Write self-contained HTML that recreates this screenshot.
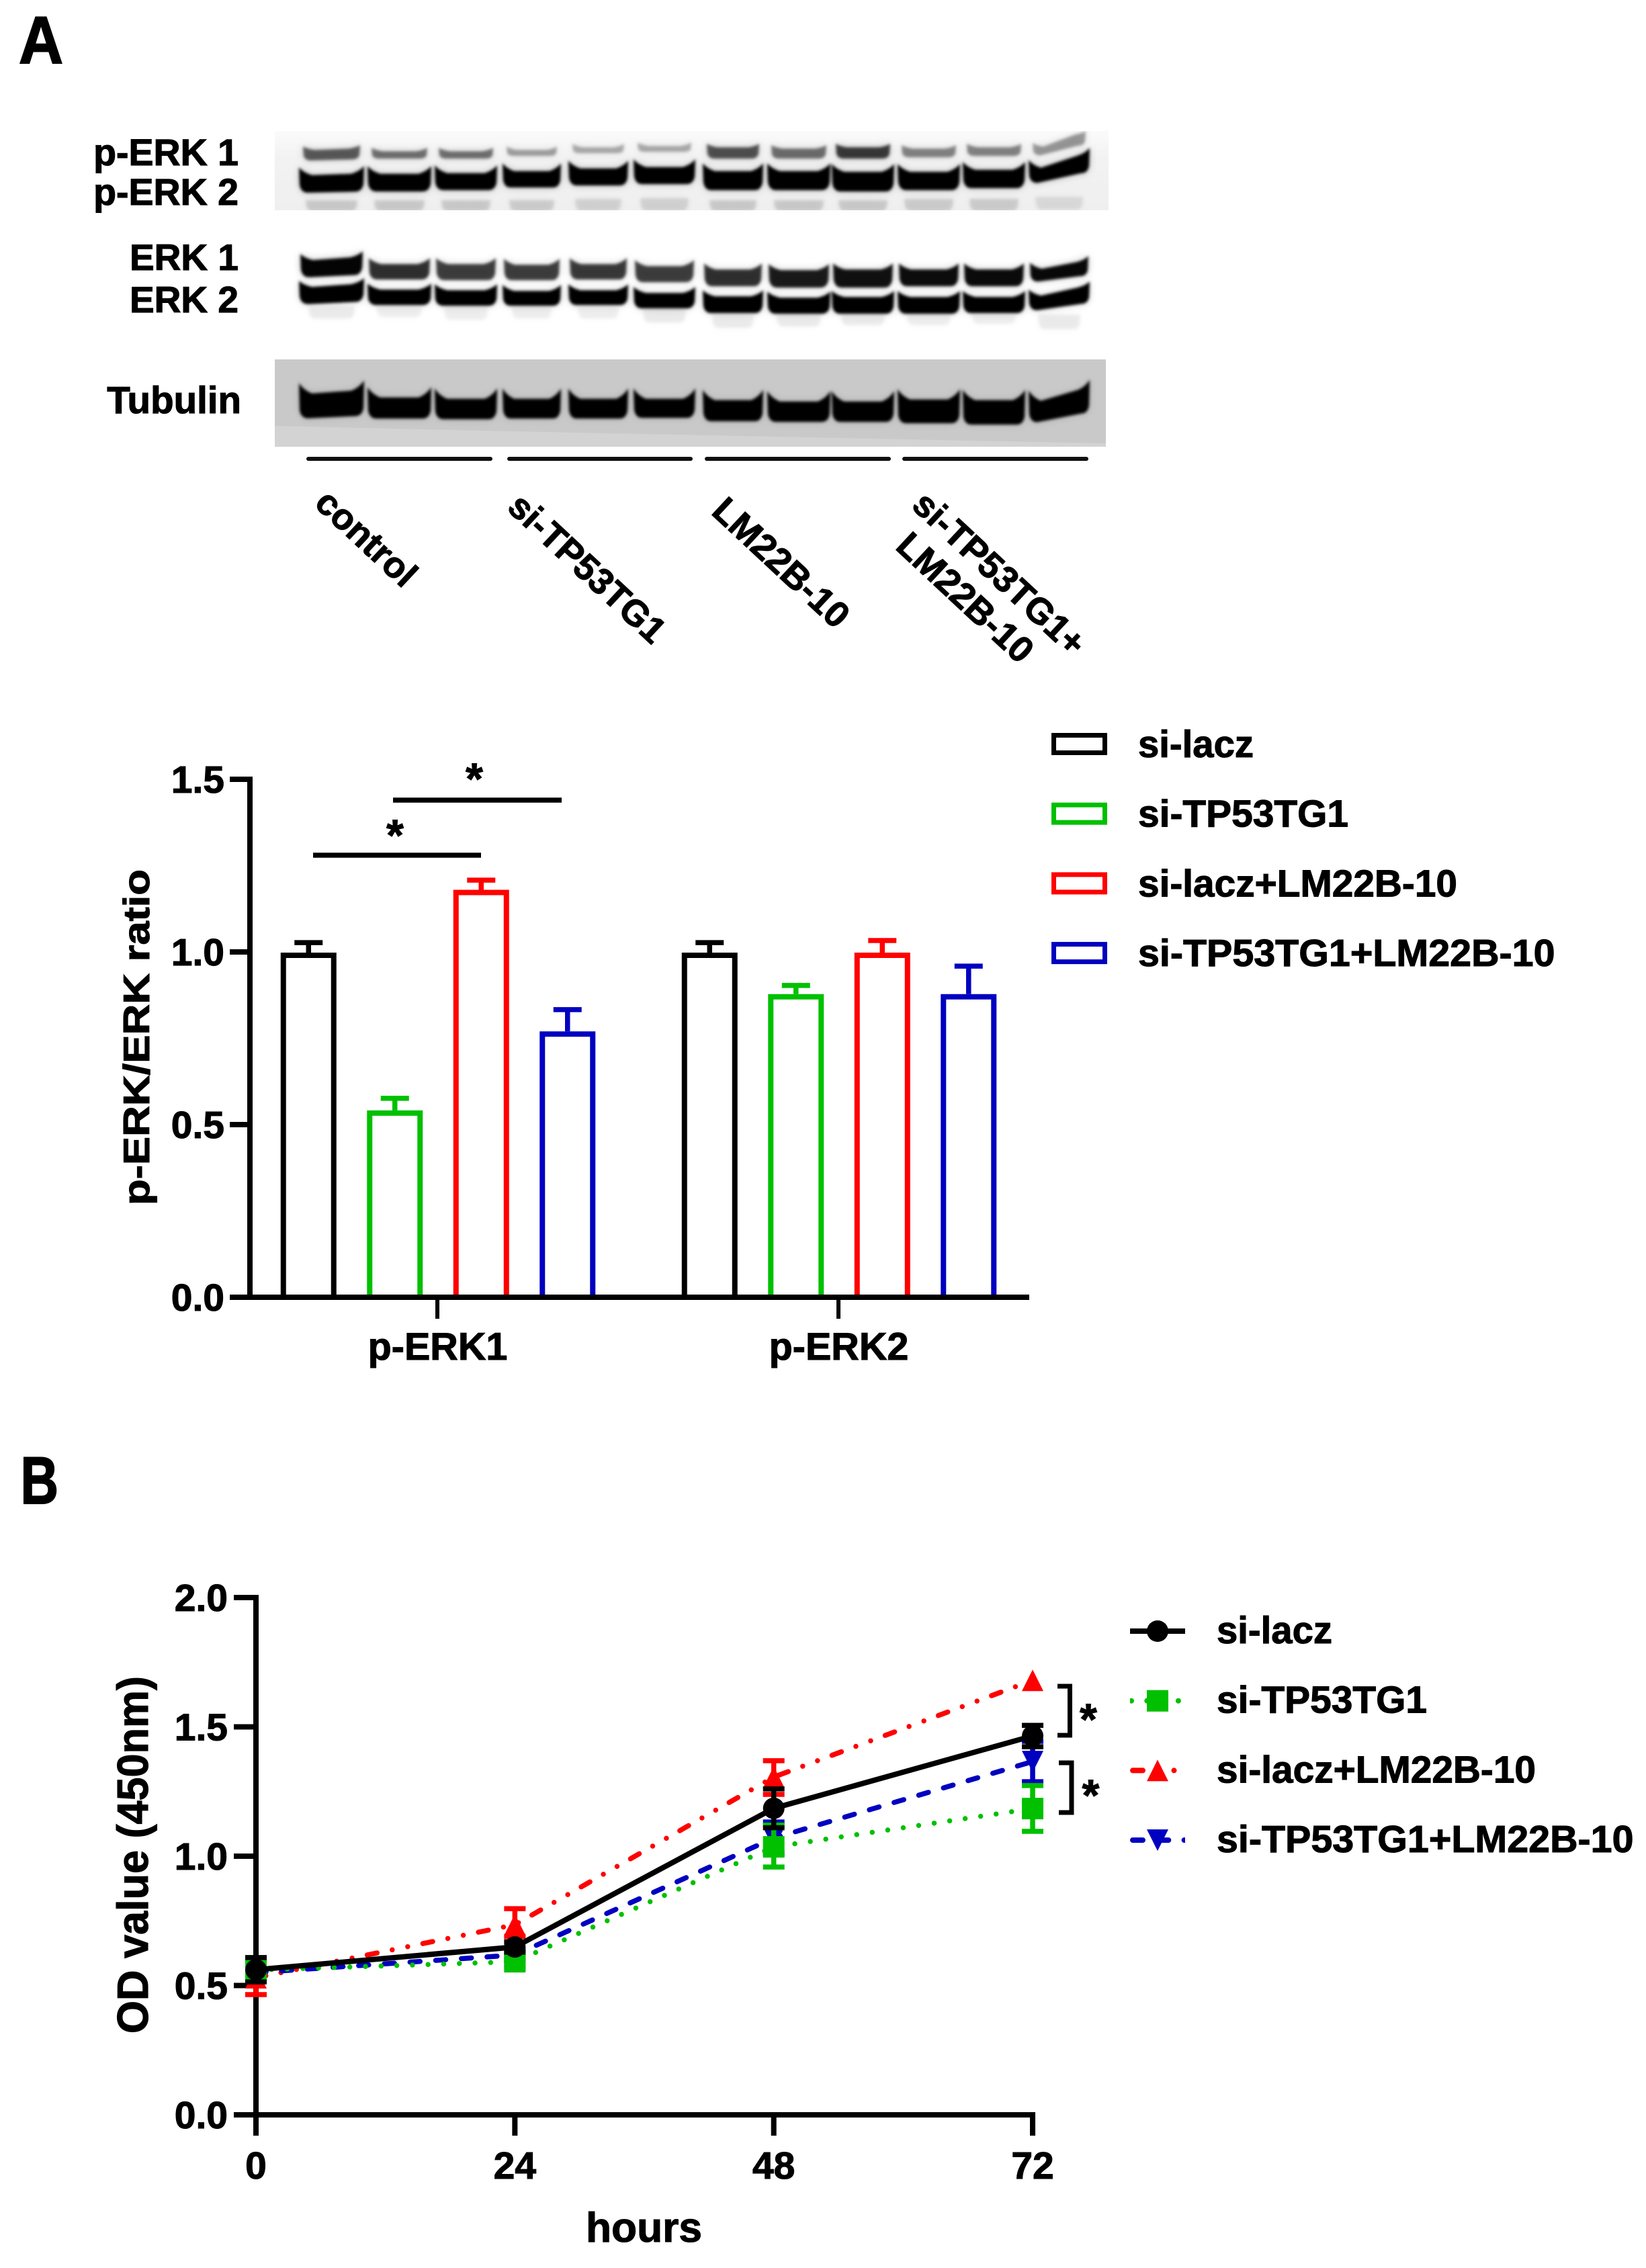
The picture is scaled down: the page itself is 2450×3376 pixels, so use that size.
<!DOCTYPE html>
<html lang="en">
<head>
<meta charset="utf-8">
<title>p-ERK and cell viability figure</title>
<style>
html,body{margin:0;padding:0;background:#fff;}
svg{display:block;}
text{font-family:"Liberation Sans",Arial,sans-serif;font-weight:bold;fill:#000;stroke:#000;stroke-width:1.1px;}
</style>
</head>
<body>
<svg id="figure" xmlns="http://www.w3.org/2000/svg" width="2450" height="3376" viewBox="0 0 2450 3376">
  <defs>
    <filter id="soft" x="-10%" y="-30%" width="120%" height="160%"><feGaussianBlur stdDeviation="2.2"/></filter>
    <filter id="haze" x="-20%" y="-60%" width="140%" height="220%"><feGaussianBlur stdDeviation="6"/></filter>
    <linearGradient id="blot1bg" x1="0" y1="0" x2="0" y2="1">
      <stop offset="0" stop-color="#fbfbfb"/><stop offset="0.35" stop-color="#f2f2f2"/><stop offset="1" stop-color="#efefef"/>
    </linearGradient>
    <clipPath id="blot1clip"><rect x="409" y="195" width="1241" height="118"/></clipPath>
    <clipPath id="blot3clip"><rect x="409" y="535" width="1237" height="130"/></clipPath>
    <clipPath id="legendclip"><rect x="1682" y="2380" width="82" height="400"/></clipPath>
  </defs>
  <rect x="0" y="0" width="2450" height="3376" fill="#fff"/>

  <text x="28" y="94" font-size="99" textLength="66" lengthAdjust="spacingAndGlyphs" style="stroke-width:2px">A</text>
  <text x="30.5" y="2238" font-size="99" textLength="56.5" lengthAdjust="spacingAndGlyphs" style="stroke-width:2px">B</text>

  <g>
    <g id="blot1" clip-path="url(#blot1clip)">
      <rect x="409" y="195" width="1241" height="118" fill="url(#blot1bg)"/>
    </g>
    <g id="blot2"></g>
    <g id="blot3" clip-path="url(#blot3clip)">
      <rect x="409" y="535" width="1237" height="130" fill="#c9c9c9"/>
      <path d="M409 634 L760 642 L1646 660 L1646 665 L409 665 Z" fill="#d3d3d3"/>
    </g>
  </g>

  <text x="355" y="246" font-size="55.5" text-anchor="end">p-ERK 1</text>
  <text x="355" y="305" font-size="55.5" text-anchor="end">p-ERK 2</text>
  <text x="355" y="402" font-size="55" text-anchor="end">ERK 1</text>
  <text x="355" y="465" font-size="55" text-anchor="end">ERK 2</text>
  <text x="359" y="615" font-size="56.5" text-anchor="end">Tubulin</text>

  <g stroke="#111" stroke-width="6" stroke-linecap="round">
    <line x1="459" y1="683" x2="730" y2="683"/>
    <line x1="758" y1="683" x2="1028" y2="683"/>
    <line x1="1052" y1="683" x2="1323" y2="683"/>
    <line x1="1346" y1="683" x2="1617" y2="683"/>
  </g>
  <text font-size="54" transform="translate(466 752) rotate(43)">control</text>
  <text font-size="54" transform="translate(753 758) rotate(43)">si-TP53TG1</text>
  <text font-size="54" transform="translate(1057 764) rotate(43)">LM22B-10</text>
  <text font-size="54" transform="translate(1355 755) rotate(43)">si-TP53TG1+</text>
  <text font-size="54" transform="translate(1331 816) rotate(43)">LM22B-10</text>

  <g id="barChart">
    <text font-size="55" textLength="500" lengthAdjust="spacingAndGlyphs" transform="translate(222 1794) rotate(-90)">p-ERK/ERK ratio</text>
  </g>
  <g>
    <line x1="466" y1="1273" x2="716" y2="1273" stroke="#000" stroke-width="7.5"/>
    <line x1="585" y1="1191" x2="836" y2="1191" stroke="#000" stroke-width="7.5"/>
    <text x="588" y="1266" font-size="66" text-anchor="middle">*</text>
    <text x="706" y="1182" font-size="66" text-anchor="middle">*</text>
  </g>
  <g id="barLegend"></g>

  <g id="lineChart">
    <text font-size="65" textLength="532" lengthAdjust="spacingAndGlyphs" transform="translate(220 3027) rotate(-90)">OD value (450nm)</text>
    <text x="872" y="3337" font-size="62" textLength="173" lengthAdjust="spacingAndGlyphs">hours</text>
  </g>
  <g>
    <path d="M1574 2510 H1592.5 V2583 H1574" fill="none" stroke="#000" stroke-width="7"/>
    <path d="M1576 2624 H1595 V2698 H1576" fill="none" stroke="#000" stroke-width="7"/>
    <text x="1620" y="2582" font-size="66" text-anchor="middle">*</text>
    <text x="1623.5" y="2695" font-size="66" text-anchor="middle">*</text>
  </g>
  <g id="lineLegend"></g>
</svg>

<script>
/* ---------- bar chart data ---------- */
const barCategories = ['p-ERK1', 'p-ERK2'];
const seriesNames = ['si-lacz', 'si-TP53TG1', 'si-lacz+LM22B-10', 'si-TP53TG1+LM22B-10'];
const barTickLabels = ['0.0', '0.5', '1.0', '1.5'];
const barTickValues = [0, 0.5, 1, 1.5];
const barSiLacz = [0.998, 0.998];
const barSiTp53 = [0.541, 0.878];
const barSiLaczLm = [1.18, 0.998];
const barSiTp53Lm = [0.77, 0.878];
const barErrSiLacz = [0.029, 0.029];
const barErrSiTp53 = [0.035, 0.025];
const barErrSiLaczLm = [0.028, 0.035];
const barErrSiTp53Lm = [0.063, 0.081];

/* ---------- line chart data ---------- */
const lineHours = [0, 24, 48, 72];
const lineTickValues = [0, 0.5, 1, 1.5, 2];
const lineTickLabels = ['0.0', '0.5', '1.0', '1.5', '2.0'];
const odSiLacz = [0.561, 0.649, 1.185, 1.465];
const odSiTp53 = [0.56, 0.592, 1.036, 1.184];
const odSiLaczLm = [0.53, 0.735, 1.306, 1.68];
const odSiTp53Lm = [0.55, 0.618, 1.07, 1.366];
const odErrUpSiLacz = [0.047, 0.02, 0.075, 0.041];
const odErrDownSiLacz = [0.047, 0.02, 0.075, 0.042];
const odErrUpSiTp53 = [0.03, 0.02, 0.084, 0.089];
const odErrDownSiTp53 = [0.03, 0.02, 0.078, 0.088];
const odErrUpSiLaczLm = [0.03, 0.062, 0.063, 0];
const odErrDownSiLaczLm = [0.065, 0.045, 0.067, 0];
const odErrUpSiTp53Lm = [0.03, 0.02, 0.062, 0.078];
const odErrDownSiTp53Lm = [0.03, 0.02, 0.06, 0.078];

const NS = 'http://www.w3.org/2000/svg';
function node(tag, attrs, parent) {
  const el = document.createElementNS(NS, tag);
  for (const k in attrs) el.setAttribute(k, attrs[k]);
  parent.appendChild(el);
  return el;
}

const COLORS = ['#000000', '#00c000', '#ff0000', '#0000c0'];
function legendLabelFit(i) {
  return [172, 313, 475, 620.5][i];
}

/* ---------- bar chart ---------- */
(function () {
  const root = document.getElementById('barChart');
  const Y = v => 1931 - 514 * v;
  const X = i => 651 + 597 * i;
  const vals = [barSiLacz, barSiTp53, barSiLaczLm, barSiTp53Lm];
  const errs = [barErrSiLacz, barErrSiTp53, barErrSiLaczLm, barErrSiTp53Lm];
  barCategories.forEach((cat, g) => {
    vals.forEach((arr, s) => {
      const cx = X(g) + (s - 1.5) * 128.5 + 1;
      const top = Y(arr[g]);
      const err = node('path', {
        d: 'M' + cx + ' ' + top + ' V' + Y(arr[g] + errs[s][g]) + ' M' + (cx - 21) + ' ' + Y(arr[g] + errs[s][g]) + ' H' + (cx + 21),
        stroke: COLORS[s], 'stroke-width': 7.5, fill: 'none'
      }, root);
      
      
      const bar = node('path', {
        d: 'M' + (cx - 37.5) + ' 1931 V' + (top + 4) + ' H' + (cx + 37.5) + ' V1931',
        stroke: COLORS[s], 'stroke-width': 8, fill: '#fff'
      }, root);
      
      
    });
    const tick = node('line', { x1: X(g), x2: X(g), y1: 1931, y2: 1963, stroke: '#000', 'stroke-width': 6 }, root);
    
    
    const lab = node('text', { x: X(g) + 0.5, y: 2024, 'font-size': 57.5, 'text-anchor': 'middle' }, root);
    lab.textContent = cat;
    
    
  });
  const yAxis = node('line', { x1: 372, x2: 372, y1: 1156, y2: 1935, stroke: '#000', 'stroke-width': 8 }, root);
  
  
  const xAxis = node('line', { x1: 342, x2: 1532, y1: 1931, y2: 1931, stroke: '#000', 'stroke-width': 8 }, root);
  
  
  barTickValues.forEach((v, i) => {
    const t = node('line', { x1: 342, x2: 372, y1: Y(v), y2: Y(v), stroke: '#000', 'stroke-width': 8 }, root);
    
    
    const l = node('text', { x: 334, y: Y(v) + 20, 'font-size': 57, 'text-anchor': 'end' }, root);
    l.textContent = barTickLabels[i];
    
    
  });

  const leg = document.getElementById('barLegend');
  seriesNames.forEach((name, s) => {
    const y0 = 1091 + s * 103.7;
    const box = node('rect', { x: 1568.5, y: y0 + 3.5, width: 76, height: 26, fill: '#fff', stroke: COLORS[s], 'stroke-width': 7 }, leg);
    
    
    const t = node('text', { x: 1694, y: y0 + 36, 'font-size': 57, textLength: legendLabelFit(s), lengthAdjust: 'spacingAndGlyphs' }, leg);
    t.textContent = name;
    
    
  });
})();

/* ---------- line chart ---------- */
const DASHES = ['none', '0 23.3', '15 23 0 23.5 0 23', '15 23.3'];
function markerPath(kind, x, y) {
  const r = 16;
  if (kind === 1) return 'M' + (x - r) + ' ' + (y - r) + 'h32v32h-32Z';
  if (kind === 2) return 'M' + x + ' ' + (y - r) + 'L' + (x + r) + ' ' + (y + r) + 'H' + (x - r) + 'Z';
  if (kind === 3) return 'M' + x + ' ' + (y + r) + 'L' + (x + r) + ' ' + (y - r) + 'H' + (x - r) + 'Z';
  return 'M' + (x - r) + ' ' + y + 'a16 16 0 1 0 32 0a16 16 0 1 0 -32 0Z';
}
(function () {
  const root = document.getElementById('lineChart');
  const X = h => 381 + 16.056 * h;
  const Y = v => 3148 - 385 * v;
  const yAxis = node('line', { x1: 381, x2: 381, y1: 2374, y2: 3152, stroke: '#000', 'stroke-width': 8 }, root);
  
  
  const xAxis = node('line', { x1: 348, x2: 1541, y1: 3148, y2: 3148, stroke: '#000', 'stroke-width': 8 }, root);
  
  
  lineTickValues.forEach((v, i) => {
    const t = node('line', { x1: 348, x2: 381, y1: Y(v), y2: Y(v), stroke: '#000', 'stroke-width': 8 }, root);
    
    
    const l = node('text', { x: 339, y: Y(v) + 20, 'font-size': 57, 'text-anchor': 'end' }, root);
    l.textContent = lineTickLabels[i];
    
    
  });
  lineHours.forEach(h => {
    const t = node('line', { x1: X(h), x2: X(h), y1: 3148, y2: 3179, stroke: '#000', 'stroke-width': 8 }, root);
    
    
    const l = node('text', { x: X(h), y: 3243, 'font-size': 57, 'text-anchor': 'middle' }, root);
    l.textContent = String(h);
    
    
  });

  const vals = [odSiLacz, odSiTp53, odSiLaczLm, odSiTp53Lm];
  const ups = [odErrUpSiLacz, odErrUpSiTp53, odErrUpSiLaczLm, odErrUpSiTp53Lm];
  const downs = [odErrDownSiLacz, odErrDownSiTp53, odErrDownSiLaczLm, odErrDownSiTp53Lm];
  [2, 3, 1, 0].forEach(s => {
    const pts = vals[s].map((v, i) => X(lineHours[i]) + ' ' + Y(v)).join(' L');
    const attrs = { d: 'M' + pts, fill: 'none', stroke: COLORS[s], 'stroke-width': s === 0 ? 8 : 7.5 };
    if (s > 0) { attrs['stroke-dasharray'] = DASHES[s]; attrs['stroke-linecap'] = 'round'; }
    const line = node('path', attrs, root);
    
    
    vals[s].forEach((v, i) => {
      const x = X(lineHours[i]);
      if (ups[s][i] > 0 || downs[s][i] > 0) {
        const yU = Y(v + ups[s][i]), yD = Y(v - downs[s][i]);
        const eb = node('path', {
          d: 'M' + x + ' ' + yU + ' V' + yD + ' M' + (x - 16) + ' ' + yU + ' H' + (x + 16) + ' M' + (x - 16) + ' ' + yD + ' H' + (x + 16),
          fill: 'none', stroke: COLORS[s], 'stroke-width': 7.5
        }, root);
        
        
      }
      const m = node('path', { d: markerPath(s, x, Y(v)), fill: COLORS[s] }, root);
      
      
    });
  });

  const leg = document.getElementById('lineLegend');
  seriesNames.forEach((name, s) => {
    const y = 2428 + s * 103.7;
    const attrs = { x1: 1682, x2: 1764, y1: y, y2: y, stroke: COLORS[s], 'stroke-width': 8, 'clip-path': 'url(#legendclip)' };
    if (s > 0) {
      attrs['stroke-dasharray'] = DASHES[s];
      attrs['stroke-linecap'] = 'round';
      attrs['stroke-dashoffset'] = s === 1 ? 21.3 : -4;
    }
    const ln = node('line', attrs, leg);
    
    
    const mk = node('path', { d: markerPath(s, 1723, y), fill: COLORS[s] }, leg);
    
    
    const t = node('text', { x: 1811, y: y + 18, 'font-size': 57, textLength: legendLabelFit(s), lengthAdjust: 'spacingAndGlyphs' }, leg);
    t.textContent = name;
    
    
  });
})();

/* ---------- western blot illustration ---------- */
(function () {
  const lanesL = [445, 547, 647, 748, 846, 943, 1046, 1142, 1238, 1336, 1433, 1531];
  const lanesR = [542, 642, 740, 835, 935, 1035, 1136, 1236, 1331, 1429, 1526, 1622];

  function bandPath(x0, x1, yT, yB, horn, tilt) {
    const w = x1 - x0;
    const a = yT + tilt, b = yT - tilt;
    const c = yB + tilt * 0.8, d = yB - tilt * 0.8;
    const rad = Math.min(12, (yB - yT) / 2.5);
    return 'M' + x0 + ' ' + (a - horn) +
      ' Q' + (x0 + 0.07 * w) + ' ' + (a - horn * 0.1) + ' ' + (x0 + 0.2 * w) + ' ' + (a + horn * 0.3) +
      ' L' + (x1 - 0.2 * w) + ' ' + (b + horn * 0.3) +
      ' Q' + (x1 - 0.07 * w) + ' ' + (b - horn * 0.1) + ' ' + x1 + ' ' + (b - horn) +
      ' L' + (x1 - 1) + ' ' + (d - rad) +
      ' Q' + (x1 - 3) + ' ' + d + ' ' + (x1 - 0.14 * w) + ' ' + d +
      ' L' + (x0 + 0.14 * w) + ' ' + c +
      ' Q' + (x0 + 3) + ' ' + c + ' ' + (x0 + 1) + ' ' + (c - rad) + 'Z';
  }
  function row(parent, tops, bots, shade, horn, tilts, inset, hazeOpacity) {
    const gh = node('g', { filter: 'url(#haze)', opacity: hazeOpacity }, parent);
    
    
    const gs = node('g', { filter: 'url(#soft)' }, parent);
    
    
    lanesL.forEach((x0, i) => {
      const x1 = lanesR[i];
      const t = tilts ? tilts[i] : 0;
      const p = bandPath(x0 + inset, x1 - inset, tops[i], bots[i], horn, t);
      const h = node('path', { d: p, fill: '#000', opacity: shade[i] }, gh);
      
      
      const b = node('path', { d: p, fill: '#000', opacity: shade[i] }, gs);
      
      
    });
  }
  const g1 = document.getElementById('blot1');
  const g2 = document.getElementById('blot2');
  const g3 = document.getElementById('blot3');
  const full = [1, 1, 1, 1, 1, 1, 1, 1, 1, 1, 1, 1];

  /* p-ERK blot */
  row(g1, [221, 224, 224, 222, 218, 216, 218, 220, 218, 220, 218, 208],
          [238, 236, 236, 232, 228, 226, 236, 236, 236, 234, 232, 224],
          [.58, .5, .5, .32, .28, .28, .62, .5, .72, .42, .42, .34], 4, [1, 0, 0, 0, 0, 0, 0, 0, 0, 0, 0, 9], 6, .35);
  row(g1, [257, 256, 255, 252, 248, 246, 252, 252, 253, 253, 250, 238],
          [286, 285, 283, 279, 276, 274, 283, 283, 285, 283, 280, 265],
          full, 9, [1, 0, 0, 0, 0, 0, 0, 0, 0, 0, 0, 9], 0, .22);
  row(g1, [298, 298, 298, 298, 296, 295, 298, 298, 298, 296, 296, 293],
          [314, 314, 314, 314, 314, 314, 314, 314, 314, 314, 314, 312],
          [.13, .13, .13, .12, .1, .1, .13, .13, .13, .12, .12, .08], 0, null, 10, .4);

  /* ERK blot */
  row(g2, [383, 391, 391, 392, 391, 394, 399, 400, 399, 399, 399, 393],
          [411, 416, 417, 417, 416, 420, 426, 428, 428, 426, 426, 415],
          [.98, .78, .72, .72, .74, .72, .78, .88, .92, .94, .95, .96], 7, [2, 0, 0, 0, 0, 0, 0, 0, 0, 0, 0, 5], 2, .25);
  row(g2, [423, 429, 430, 431, 430, 434, 439, 441, 440, 440, 440, 432],
          [451, 454, 455, 455, 454, 459, 466, 467, 467, 467, 466, 457],
          full, 7, [2, 0, 0, 0, 0, 0, 0, 0, 0, 0, 0, 6], 0, .2);
  row(g2, [456, 456, 456, 456, 456, 459, 468, 468, 468, 468, 468, 468],
          [474, 472, 476, 474, 474, 480, 488, 486, 484, 484, 482, 490],
          [.06, .05, .05, .05, .05, .06, .06, .06, .06, .05, .05, .06], 0, null, 14, .5);

  /* tubulin blot */
  row(g3, [580, 588, 590, 590, 590, 590, 592, 594, 594, 591, 592, 585],
          [621, 623, 624, 623, 623, 622, 627, 628, 628, 630, 632, 622],
          full, 12, [2, 0, 0, 0, 0, 0, 0, 0, 0, 0, 0, 8], 0, .12);
})();
</script>
</body>
</html>
